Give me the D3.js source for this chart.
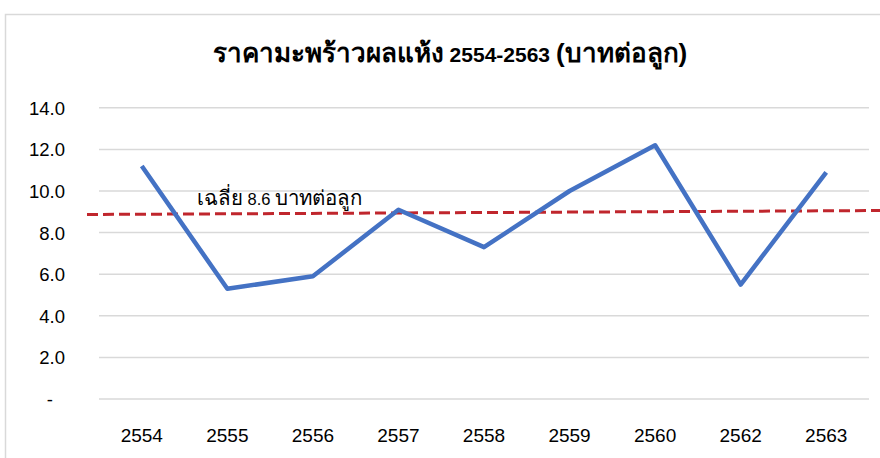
<!DOCTYPE html>
<html lang="th">
<head>
  <meta charset="UTF-8"/>
  <title>ราคามะพร้าวผลแห้ง 2554-2563</title>
  <script src="https://d3js.org/d3.v7.min.js"></script>
  <style>
    body { margin: 0; background: #fff; }
    text { font-family: Arial, "Liberation Sans", sans-serif; fill: #000; }
  </style>
</head>
<body>
<script>

  var years  = ["2554", "2555", "2556", "2557", "2558", "2559", "2560", "2562", "2563"];
  var prices = [11.2, 5.3, 5.9, 9.1, 7.3, 10.0, 12.2, 5.5, 10.9];
  var yTicks = [0, 2, 4, 6, 8, 10, 12, 14];
  // the average line as drawn: value at its left end and at its right end
  var avgEnds  = [8.87, 9.06];
  var avgLabel = "เฉลี่ย 8.6 บาทต่อลูก";
  var title    = "ราคามะพร้าวผลแห้ง 2554-2563 (บาทต่อลูก)";

  var w = 880;
  var h = 458;

  var svg = d3.select("body")
              .append("svg")
              .attr("width", w)
              .attr("height", h);

  // the fallback Thai font draws small, so Thai runs get a bigger size
  function mixedText(sel, str, size) {
    var runs = str.match(/[\u0E00-\u0E7F()]+|[^\u0E00-\u0E7F()]+/g);
    sel.selectAll("tspan")
       .data(runs)
       .enter()
       .append("tspan")
       .style("font-size", function(d) {
         return /[\u0E00-\u0E7F]/.test(d) ? (size * 1.24) + "px" : size + "px";
       })
       .text(function(d) { return d; });
  }

  // chart frame (right and bottom run off the picture)
  svg.append("rect")
     .attr("x", 5.5)
     .attr("y", 14.5)
     .attr("width", 1000)
     .attr("height", 1000)
     .attr("fill", "none")
     .attr("stroke", "#d9d9d9")
     .attr("stroke-width", 1.5);

  var x = d3.scaleBand()
            .domain(years)
            .range([99, 869]);

  var y = d3.scaleLinear()
            .domain([0, 14])
            .range([399, 107.8]);

  // gridlines
  svg.selectAll("line.grid")
     .data(yTicks)
     .enter()
     .append("line")
     .attr("class", "grid")
     .attr("x1", 99)
     .attr("x2", 869)
     .attr("y1", function(d) { return y(d); })
     .attr("y2", function(d) { return y(d); })
     .attr("stroke", "#d9d9d9")
     .attr("stroke-width", 1.5);

  // y axis labels
  var yAxis = d3.axisLeft(y)
                .tickValues(yTicks)
                .tickSize(0)
                .tickPadding(0)
                .tickFormat(function(d) { return d === 0 ? "-" : d3.format(".1f")(d); });

  var gy = svg.append("g")
              .attr("transform", "translate(65,0)")
              .call(yAxis);
  gy.select(".domain").remove();
  gy.selectAll("text")
    .style("font-size", "18.5px")
    .attr("dy", "0.35em")
    .attr("dx", function(d) { return d === 0 ? -12 : 0; });

  // x axis labels
  var xAxis = d3.axisBottom(x)
                .tickSize(0)
                .tickPadding(0);

  var gx = svg.append("g")
              .attr("transform", "translate(0,435)")
              .call(xAxis);
  gx.select(".domain").remove();
  gx.selectAll("text")
    .style("font-size", "19px")
    .attr("y", 0)
    .attr("dy", "0.35em");

  // average line
  var avgX = d3.scaleLinear().domain([0, 1]).range([87, 880]);
  svg.append("line")
     .attr("x1", avgX(0))
     .attr("x2", avgX(1))
     .attr("y1", y(avgEnds[0]))
     .attr("y2", y(avgEnds[1]))
     .attr("stroke", "#c0262d")
     .attr("stroke-width", 3)
     .attr("stroke-dasharray", "11,5");

  svg.append("text")
     .attr("x", 197)
     .attr("y", 205)
     .call(mixedText, avgLabel, 16.5);

  // price line
  var line = d3.line()
               .x(function(d, i) { return x(years[i]) + x.bandwidth() / 2; })
               .y(function(d) { return y(d); });

  svg.append("path")
     .datum(prices)
     .attr("d", line)
     .attr("fill", "none")
     .attr("stroke", "#4472c4")
     .attr("stroke-width", 4.5)
     .attr("stroke-linejoin", "round");

  // title
  svg.append("text")
     .attr("x", 450)
     .attr("y", 62)
     .attr("text-anchor", "middle")
     .style("font-weight", "bold")
     .call(mixedText, title, 21);

</script>
</body>
</html>
